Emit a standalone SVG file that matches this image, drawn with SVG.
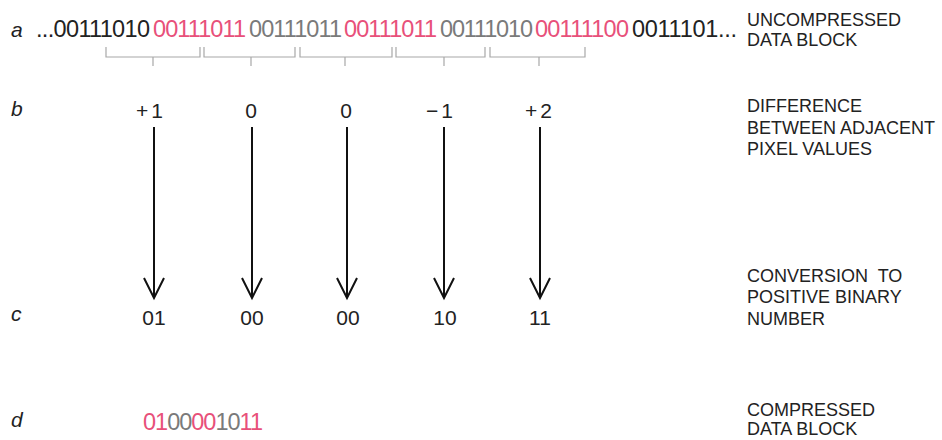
<svg xmlns="http://www.w3.org/2000/svg" width="942" height="440" viewBox="0 0 942 440">
<style>
text{font-family:"Liberation Sans",Arial,Helvetica,sans-serif;fill:#222}
.lt{font-style:italic;font-size:21px}
.data{font-size:23.5px}
.red{fill:#e8507a}
.gray{fill:#7a7a7a}
.lbl{font-size:18px}
.val{font-size:21px;text-anchor:middle}
.br{fill:none;stroke:#a8a8a8;stroke-width:1.2}
.arr{stroke:#111;stroke-width:2;fill:none}
</style>
<defs>
<marker id="ah" markerUnits="userSpaceOnUse" markerWidth="24" markerHeight="24" viewBox="-22 -12 24 24" refX="0" refY="0" orient="auto" overflow="visible">
<path d="M-20,-10 L0,0 L-20,10" fill="none" stroke="#111" stroke-width="2"/>
</marker>
</defs>
<g id="row-a">
<text class="lt" x="11" y="37">a</text>
<text class="data" x="36" y="37" textLength="114" lengthAdjust="spacing">...00111010</text>
<text class="data red" x="153" y="37" textLength="93" lengthAdjust="spacing">00111011</text>
<text class="data gray" x="249" y="37" textLength="93" lengthAdjust="spacing">00111011</text>
<text class="data red" x="344" y="37" textLength="93" lengthAdjust="spacing">00111011</text>
<text class="data gray" x="440" y="37" textLength="93" lengthAdjust="spacing">00111010</text>
<text class="data red" x="535" y="37" textLength="94" lengthAdjust="spacing">00111100</text>
<text class="data" x="632" y="37" textLength="105" lengthAdjust="spacing">0011101...</text>
<text class="lbl" x="747" y="26">UNCOMPRESSED</text>
<text class="lbl" x="747" y="46">DATA BLOCK</text>
</g>
<g id="brackets">
<path class="br" d="M106,47V57H200V47M153,57V66"/>
<path class="br" d="M204,47V57H295V47M251,57V66"/>
<path class="br" d="M300,47V57H392V47M345,57V66"/>
<path class="br" d="M396,47V57H485V47M444,57V66"/>
<path class="br" d="M490,47V57H585V47M539,57V66"/>
</g>
<g id="row-b">
<text class="lt" x="11" y="116">b</text>
<text class="val" x="151" y="118" letter-spacing="3">+1</text>
<text class="val" x="251" y="118">0</text>
<text class="val" x="346" y="118">0</text>
<text class="val" x="441" y="118" letter-spacing="3">−1</text>
<text class="val" x="540" y="118" letter-spacing="3">+2</text>
<text class="lbl" x="747" y="112">DIFFERENCE</text>
<text class="lbl" x="747" y="134">BETWEEN ADJACENT</text>
<text class="lbl" x="747" y="155">PIXEL VALUES</text>
</g>
<g id="connectors">
<line class="arr" x1="154" y1="127" x2="154" y2="298" marker-end="url(#ah)"/>
<line class="arr" x1="252" y1="127" x2="252" y2="298" marker-end="url(#ah)"/>
<line class="arr" x1="347" y1="127" x2="347" y2="298" marker-end="url(#ah)"/>
<line class="arr" x1="444" y1="127" x2="444" y2="298" marker-end="url(#ah)"/>
<line class="arr" x1="540" y1="127" x2="540" y2="298" marker-end="url(#ah)"/>
</g>
<g id="row-c">
<text class="lt" x="11" y="321">c</text>
<text class="val" x="154" y="325">01</text>
<text class="val" x="252" y="325">00</text>
<text class="val" x="348" y="325">00</text>
<text class="val" x="445" y="325">10</text>
<text class="val" x="540" y="325">11</text>
<text class="lbl" x="747" y="282" xml:space="preserve">CONVERSION  TO</text>
<text class="lbl" x="747" y="303">POSITIVE BINARY</text>
<text class="lbl" x="747" y="325">NUMBER</text>
</g>
<g id="row-d">
<text class="lt" x="11" y="427">d</text>
<text class="data" x="143" y="430" textLength="120" lengthAdjust="spacing"><tspan class="red">01</tspan><tspan class="gray">00</tspan><tspan class="red">00</tspan><tspan class="gray">10</tspan><tspan class="red">11</tspan></text>
<text class="lbl" x="747" y="416">COMPRESSED</text>
<text class="lbl" x="747" y="435">DATA BLOCK</text>
</g>
</svg>
